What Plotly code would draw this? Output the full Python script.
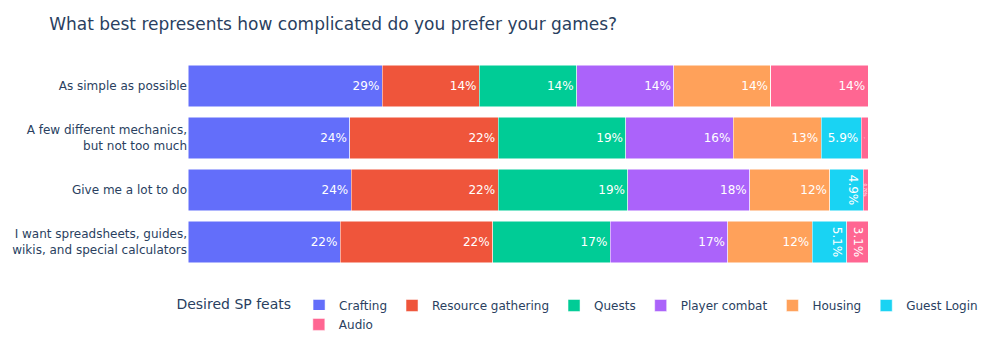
import plotly.graph_objects as go

categories = [
    "As simple as possible",
    "A few different mechanics,<br>but not too much",
    "Give me a lot to do",
    "I want spreadsheets, guides,<br>wikis, and special calculators",
]
series_names = ["Crafting", "Resource gathering", "Quests", "Player combat",
                "Housing", "Guest Login", "Audio"]
colors = ["#636EFA", "#EF553B", "#00CC96", "#AB63FA", "#FFA15A", "#19D3F3", "#FF6692"]

crafting = [28.57, 23.8, 24.0, 22.4]
resource_gathering = [14.29, 21.8, 21.6, 22.4]
quests = [14.29, 18.8, 19.1, 17.3]
player_combat = [14.29, 15.8, 17.9, 17.3]
housing = [14.29, 12.9, 11.8, 12.4]
guest_login = [0.0, 5.9, 4.9, 5.1]
audio = [14.29, 1.0, 0.7, 3.1]

values = [crafting, resource_gathering, quests, player_combat, housing, guest_login, audio]

fig = go.Figure()
for i, (name, vals, col) in enumerate(zip(series_names, values, colors)):
    fig.add_trace(go.Bar(
        y=categories, x=vals, name=name, orientation="h",
        marker=dict(color=col, line=dict(color="white", width=0.5)),
        texttemplate=["%{x:.2g}%" if v > 0 else "" for v in vals],
        textposition="inside",
        insidetextfont=dict(color="white"),
        legend="legend" if i < 6 else "legend2",
        hovertemplate="%{y}<br>" + name + ": %{x:.1f}%<extra></extra>",
    ))

fig.update_layout(
    template="plotly_white",
    font=dict(family="DejaVu Sans, Verdana, sans-serif"),
    barmode="stack",
    bargap=0.2,
    width=983, height=350,
    margin=dict(l=188, r=115, t=60, b=82, autoexpand=False),
    title=dict(text="What best represents how complicated do you prefer your games?", x=0.05),
    xaxis=dict(visible=False, range=[0, 100]),
    yaxis=dict(autorange="reversed", showgrid=False, ticks=""),
    legend=dict(orientation="h", x=-0.02, y=-0.1104, yanchor="top", xanchor="left",
                traceorder="normal",
                title=dict(text="Desired SP feats")),
    legend2=dict(orientation="h", x=0.163, y=-0.2014, yanchor="top", xanchor="left",
                 traceorder="normal"),
)

fig.write_html("out.html")
